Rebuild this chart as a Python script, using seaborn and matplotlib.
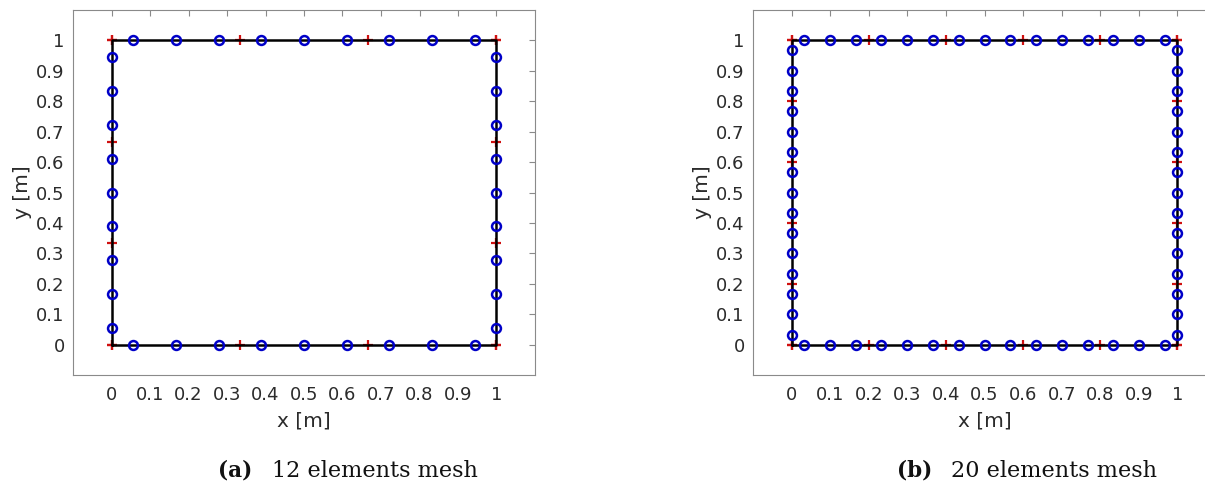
import matplotlib
matplotlib.use("Agg")
import matplotlib.pyplot as plt
import pandas as pd
import seaborn as sns

sns.set_style("white")
plt.rcParams["font.family"] = ["DejaVu Sans"]

# ---- data ----
boundary_x = [0, 1, 1, 0, 0]
boundary_y = [0, 0, 1, 1, 0]

nodes_a = [0, 0.333, 0.667, 1]
colloc_a = [0.056, 0.167, 0.278, 0.389, 0.5, 0.611, 0.722, 0.833, 0.944]

nodes_b = [0, 0.2, 0.4, 0.6, 0.8, 1]
colloc_b = [0.033, 0.1, 0.167, 0.233, 0.3, 0.367, 0.433, 0.5, 0.567,
            0.633, 0.7, 0.767, 0.833, 0.9, 0.967]

tick_values = [0, 0.1, 0.2, 0.3, 0.4, 0.5, 0.6, 0.7, 0.8, 0.9, 1]
tick_labels = ["0", "0.1", "0.2", "0.3", "0.4", "0.5", "0.6", "0.7", "0.8", "0.9", "1"]

captions = [("(a)", "12 elements mesh"), ("(b)", "20 elements mesh")]


def on_square(vals):
    """Place edge parameters on the four sides of the unit square."""
    xs, ys = [], []
    for v in vals:
        xs += [v, 1, v, 0]
        ys += [0, v, 1, v]
    return pd.DataFrame({"x": xs, "y": ys})


W, H = 1205, 482
fig = plt.figure(figsize=(W / 100, H / 100), dpi=100)

axes_px = [(73, 10, 535, 375), (753, 10, 1216, 375)]
cap_pos = [(218, 272), (897, 951)]
meshes = [(nodes_a, colloc_a), (nodes_b, colloc_b)]

gray = "#8a8a8a"
txt = "#2b2b2b"

for (l, t, r, b), (nodes, colloc), (tag, cap), (cx1, cx2) in zip(axes_px, meshes, captions, cap_pos):
    ax = fig.add_axes([l / W, (H - b) / H, (r - l) / W, (b - t) / H])
    bd = pd.DataFrame({"x": boundary_x, "y": boundary_y})
    nd = on_square(nodes)
    cp = on_square(colloc)
    sns.lineplot(data=nd, x="x", y="y", ax=ax, sort=False, estimator=None,
                 marker="+", linestyle="none", markersize=6.5,
                 markeredgecolor="#d01010", markeredgewidth=1.6, zorder=2)
    sns.lineplot(data=bd, x="x", y="y", ax=ax, sort=False, estimator=None,
                 color="black", linewidth=1.8, zorder=3)
    sns.lineplot(data=cp, x="x", y="y", ax=ax, sort=False, estimator=None,
                 marker="o", linestyle="none", markersize=6.4,
                 markerfacecolor="none", markeredgecolor="#0000c8",
                 markeredgewidth=1.8, zorder=4)
    ax.set_xlim(-0.1, 1.1)
    ax.set_ylim(-0.1, 1.1)
    ax.set_xticks(tick_values)
    ax.set_xticklabels(tick_labels)
    ax.set_yticks(tick_values)
    ax.set_yticklabels(tick_labels)
    ax.tick_params(direction="in", top=True, right=True, length=4, width=0.8,
                   color=gray, labelsize=13, labelcolor=txt, pad=6)
    ax.tick_params(axis="x", pad=8)
    for s in ax.spines.values():
        s.set_color(gray)
        s.set_linewidth(0.8)
    ax.set_xlabel("x [m]", fontsize=14.5, color=txt, labelpad=5)
    ax.set_ylabel("y [m]", fontsize=14.5, color=txt, labelpad=3)

    fig.text(cx1 / W, (H - 477) / H, tag, family="DejaVu Serif", weight="bold",
             fontsize=15.5, color="#111111", ha="left", va="baseline")
    fig.text(cx2 / W, (H - 477) / H, cap, family="DejaVu Serif",
             fontsize=16.1, color="#111111", ha="left", va="baseline")

fig.savefig("out.png", dpi=100)
